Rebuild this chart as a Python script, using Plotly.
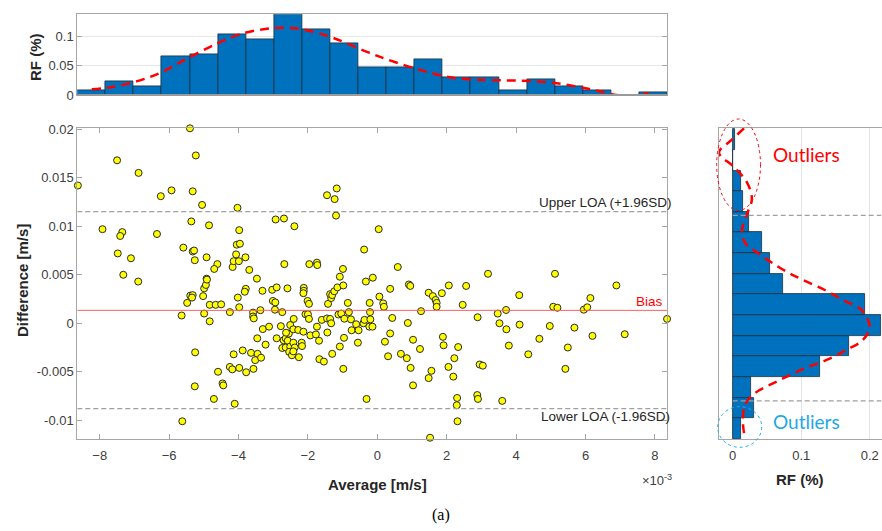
import plotly.graph_objects as go

W, H = 882, 531

# ---------------- data ----------------
# Bland-Altman scatter: average and difference, both in units of 1e-3 m/s
avg_e3 = [
    -8.63, -5.40, -5.23, -7.50, -6.88, -5.93, -6.24, -5.32, -5.05, -4.03,
    -7.92, -7.35, -7.41, -6.35, -5.36, -4.85, -7.48, -7.10, -5.59, -5.32,
    -5.28, -5.26, -4.92, -4.61, -4.70, -7.32, -4.17, -4.14, -4.07, -4.05,
    -3.98, -3.99, -4.92, -6.89, -1.45, -1.23, -1.17, -1.19, -2.93, -2.69,
    -2.39, 0.04, -3.96, -3.80, -3.69, -3.47, -2.68, -1.96, -1.74, -1.73,
    -0.99, -0.38, 0.59, -1.08, -0.13, 3.19, 5.12, -5.64, -5.25, -5.62,
    -5.48, -5.39, -5.32, -5.34, -5.02, -4.99, -4.94, -4.91, -4.99, -4.83,
    -4.83, -4.66, -4.50, -4.25, -4.02, -3.98, -4.14, -5.26, -4.59, -4.46,
    -4.44, -4.71, -4.25, -4.18, -3.98, -4.11, -3.79, -3.82, -3.31, -3.03,
    -2.90, -2.59, -2.12, -2.12, -2.13, -3.01, -2.94, -3.37, -3.58, -3.58,
    -3.56, -2.95, -2.74, -2.01, -1.97, -2.07, -2.00, -1.97, -1.42, -1.33,
    -1.36, -1.30, -1.24, -1.15, -0.98, -0.85, -0.33, 0.06, 0.17, 0.19,
    -0.22, 0.37, 0.91, 0.95, 1.48, 1.60, 1.68, 1.71, 1.71, 1.86,
    2.06, 1.26, -3.88, -3.64, -3.45, -3.52, -3.35, -3.78, -3.57, -3.46,
    -3.22, -3.30, -3.12, -2.90, -2.78, -2.74, -2.64, -2.70, -2.64, -2.58,
    -2.55, -2.63, -2.51, -2.41, -2.42, -2.28, -2.13, -2.51, -2.42, -2.38,
    -2.54, -2.46, -2.42, -2.26, -2.18, -2.17, -1.93, -1.77, -1.74, -1.60,
    -1.68, -1.44, -1.45, -1.36, -1.33, -1.67, -1.54, -1.30, -1.08, -0.96,
    -0.98, -1.12, -1.04, -0.95, -0.82, -0.76, -0.74, -0.61, -0.54, -0.56,
    -0.40, -0.37, -0.23, -0.14, -0.20, -0.21, -0.31, 0.43, 0.37, 0.22,
    0.31, 0.68, 0.85, 0.88, 1.03, 1.23, 0.96, 1.03, 1.48, 1.56,
    1.52, 1.89, 1.91, 2.05, 2.19, 2.33, 2.22, 2.30, 2.29, 2.31,
    2.56, 2.46, 4.09, 6.89, 6.14, 5.07, 5.19, 5.95, 6.05, 3.71,
    3.47, 2.89, 3.52, 3.72, 4.10, 4.97, 5.68, 6.20, 7.13, 8.35,
    4.67, 3.79, 5.49, 4.35, 2.95, 3.04, 5.42, 2.88, 2.90, 3.60,
]
diff_e3 = [
    14.2, 20.1, 17.3, 16.8, 15.5, 13.7, 13.1, 13.6, 12.2, 11.9,
    9.7, 9.4, 9.0, 9.2, 10.5, 10.1, 7.2, 6.7, 7.8, 7.4,
    7.5, 6.5, 6.8, 6.1, 5.6, 5.0, 5.8, 6.4, 7.1, 8.1,
    9.6, 6.4, 4.6, 4.3, 13.2, 12.8, 13.9, 11.1, 10.7, 10.8,
    10.0, 9.7, 8.2, 6.8, 5.5, 4.6, 6.1, 6.1, 6.25, 6.0,
    5.6, 7.6, 5.8, 4.8, 4.7, 5.1, 5.1, 0.8, -3.0, -10.1,
    2.1, 2.85, 2.9, 2.65, 2.8, 3.6, 3.95, 4.5, 1.0, 0.2,
    1.9, 1.9, 1.95, 1.15, 2.65, 1.65, -3.2, -6.5, -5.0, -6.2,
    -6.4, -7.8, -4.5, -4.75, -4.6, -8.3, 3.55, 3.25, 3.35, 3.45,
    3.7, 3.6, 3.65, 3.35, 3.1, 2.3, 2.15, 1.35, 1.1, 0.7,
    0.5, 1.4, 1.15, 2.3, 2.0, 0.93, 0.93, 0.45, 2.0, 2.6,
    3.0, 2.9, 3.3, 3.7, 3.9, 2.1, 4.3, 2.75, 2.05, 1.7,
    2.1, 3.55, 4.0, 3.85, 3.15, 2.8, 2.4, 2.1, 1.7, 3.1,
    3.9, 1.25, -2.8, -3.05, -3.15, -3.8, -3.55, -5.05, -4.7, -1.55,
    -2.2, -0.6, -0.35, -1.55, -0.3, -2.55, -2.5, -1.75, -1.55, -1.8,
    -1.07, -0.97, -0.18, 0.45, -0.62, -0.69, -0.87, -2.4, -2.0, -2.5,
    -2.95, -3.3, -2.9, -3.5, -2.0, -2.35, -1.25, -1.15, -0.35, 0.35,
    -1.8, -0.95, 0.5, 0.45, 0.0, -3.7, -3.95, -3.15, -2.4, -1.5,
    -4.7, 0.9, 1.0, 0.47, 1.15, 0.4, -0.72, -0.1, -0.72, -2.0,
    0.0, 0.35, -0.35, -0.35, 0.4, 1.15, -7.8, 0.55, -1.05, -1.9,
    -3.4, -3.15, -3.6, 0.03, -1.7, -2.65, -4.6, -6.4, -5.65, -4.9,
    -11.8, -1.4, -2.27, -4.5, -5.5, -2.45, -3.6, -7.7, -8.45, -10.1,
    3.85, 1.9, 2.9, 3.9, 2.6, 1.7, 1.6, 1.4, 1.65, 1.37,
    1.0, 0.62, 0.0, -0.62, -0.14, -0.28, -0.45, -1.3, -1.13, 0.45,
    -1.6, -2.3, -2.5, -3.2, -4.25, -4.37, -4.7, -7.4, -7.8, -8.0,
]

bias_e3 = 1.33
upper_loa_e3 = 11.5
lower_loa_e3 = -8.8

# histogram of averages (top panel), 21 bins
top_bin_start_e3 = -8.64
top_bin_width_e3 = 0.8095
top_rf = [0.0085, 0.0239, 0.0153, 0.066, 0.070, 0.104, 0.096, 0.138, 0.112, 0.0886,
          0.047, 0.0466, 0.062, 0.0307, 0.0307, 0.0085, 0.027, 0.0153, 0.0085, 0.0, 0.005]
top_fit_x_e3 = [-8.23, -7.6, -6.84, -6.18, -5.48, -4.62, -3.96, -3.18, -2.60, -2.03, -1.28,
                -0.30, 0.28, 1.23, 2.18, 3.16, 4.11, 5.06, 6.04, 6.90, 7.37, 7.95]
top_fit_rf = [0.0097, 0.014, 0.025, 0.040, 0.0625, 0.088, 0.104, 0.1136, 0.115, 0.111, 0.098,
              0.074, 0.061, 0.043, 0.0295, 0.0256, 0.0245, 0.021, 0.011, 0.0, -0.003, 0.0065]

# histogram of differences (right panel), 15 bins, bottom to top
right_bin_start_e3 = -11.93
right_bin_width_e3 = 2.129
right_rf = [0.0117, 0.0306, 0.0267, 0.127, 0.170, 0.216, 0.193, 0.0739, 0.054, 0.0423,
            0.0233, 0.0155, 0.0117, 0.0, 0.0034]
right_fit_y_e3 = [20.1, 18.9, 17.6, 16.1, 14.5, 12.8, 11.3, 9.6, 8.3, 7.45, 6.4, 5.26, 4.46,
                  3.43, 2.4, 1.37, -0.38, -1.72, -2.75, -3.78, -4.64, -5.5, -6.36, -7.2,
                  -8.4, -10.3, -11.9]
right_fit_rf = [0.0165, -0.0015, -0.020, 0.002, 0.021, 0.028, 0.021, 0.0136, 0.018, 0.0325,
                0.054, 0.080, 0.103, 0.1345, 0.161, 0.188, 0.200, 0.190, 0.166, 0.137, 0.105,
                0.079, 0.054, 0.0325, 0.018, 0.015, 0.018]
right_upper_e3 = 11.13
right_lower_e3 = -8.0

x_tick_vals = [-8, -6, -4, -2, 0, 2, 4, 6, 8]
y_tick_vals = [-0.01, -0.005, 0, 0.005, 0.01, 0.015, 0.02]
y_tick_text = ["-0.01", "-0.005", "0", "0.005", "0.01", "0.015", "0.02"]

# ---------------- helpers ----------------
def pxx(x):
    return x / W

def pxy(y):
    return 1 - y / H

E = 1e-3
BLUE = "#0072BD"
EDGE = "#1c2e40"
AX = "#a6a6a6"
TXT = "#404040"
FONT = "Liberation Sans"

main_xdom = [pxx(77.3), pxx(667.3)]
main_ydom = [pxy(439), pxy(128)]
x_range = [-8.646, 8.357]
y_range = [-0.01193, 0.02013]

fig = go.Figure()

# top histogram
top_centers = [top_bin_start_e3 + (i + 0.5) * top_bin_width_e3 for i in range(len(top_rf))]
fig.add_trace(go.Bar(x=top_centers, y=top_rf, width=top_bin_width_e3,
                     marker=dict(color=BLUE, line=dict(color=EDGE, width=0.8)),
                     xaxis="x2", yaxis="y2", showlegend=False))
fig.add_trace(go.Scatter(x=top_fit_x_e3, y=top_fit_rf, mode="lines",
                         line=dict(color="#ff0000", width=2.5, dash="9px,6px", shape="spline"),
                         xaxis="x2", yaxis="y2", showlegend=False))

# right histogram
right_centers = [(right_bin_start_e3 + (i + 0.5) * right_bin_width_e3) * E for i in range(len(right_rf))]
fig.add_trace(go.Bar(y=right_centers, x=right_rf, width=right_bin_width_e3 * E, orientation="h",
                     marker=dict(color=BLUE, line=dict(color=EDGE, width=0.8)),
                     xaxis="x3", yaxis="y3", showlegend=False))
fig.add_trace(go.Scatter(x=right_fit_rf, y=[v * E for v in right_fit_y_e3], mode="lines",
                         line=dict(color="#ff0000", width=2.5, dash="9px,6px", shape="spline"),
                         xaxis="x3", yaxis="y3", showlegend=False))

# main scatter
fig.add_trace(go.Scatter(x=avg_e3, y=[v * E for v in diff_e3], mode="markers",
                         marker=dict(color="#ffff00", size=7, line=dict(color="#2a2a2a", width=1)),
                         cliponaxis=False, xaxis="x", yaxis="y", showlegend=False))

shapes = [
    dict(type="line", xref="x", yref="y", x0=x_range[0], x1=x_range[1],
         y0=upper_loa_e3 * E, y1=upper_loa_e3 * E, line=dict(color="#a0a0a0", width=1.3, dash="5px,3px")),
    dict(type="line", xref="x", yref="y", x0=x_range[0], x1=x_range[1],
         y0=lower_loa_e3 * E, y1=lower_loa_e3 * E, line=dict(color="#a0a0a0", width=1.3, dash="5px,3px")),
    dict(type="line", xref="x", yref="y", x0=x_range[0], x1=x_range[1],
         y0=bias_e3 * E, y1=bias_e3 * E, line=dict(color="#ff6060", width=1)),
    dict(type="line", xref="x3", yref="y3", x0=0, x1=0.2172,
         y0=right_upper_e3 * E, y1=right_upper_e3 * E, line=dict(color="#a0a0a0", width=1.3, dash="5px,3px")),
    dict(type="line", xref="x3", yref="y3", x0=0, x1=0.2172,
         y0=right_lower_e3 * E, y1=right_lower_e3 * E, line=dict(color="#a0a0a0", width=1.3, dash="5px,3px")),
    dict(type="line", xref="paper", yref="paper", x0=main_xdom[0], x1=main_xdom[1],
         y0=pxy(95), y1=pxy(95), line=dict(color="#9a9a9a", width=2)),
    dict(type="circle", xref="paper", yref="paper", x0=pxx(716.7), x1=pxx(760.5),
         y0=pxy(210.5), y1=pxy(119), line=dict(color="#ff0000", width=1, dash="dot")),
    dict(type="circle", xref="paper", yref="paper", x0=pxx(717.7), x1=pxx(761.7),
         y0=pxy(447.3), y1=pxy(406.7), line=dict(color="#22aee8", width=1, dash="dot")),
]

def ann(text, x, y, size=13, color=TXT, xanchor="center", bold=False, family=FONT, angle=0):
    if bold:
        text = "<b>" + text + "</b>"
    return dict(text=text, xref="paper", yref="paper", x=pxx(x), y=pxy(y), showarrow=False,
                xanchor=xanchor, yanchor="middle", textangle=angle,
                font=dict(size=size, color=color, family=family))

annotations = [
    ann("Upper LOA (+1.96SD)", 673, 202.5, size=13.5, color="#262626", xanchor="right"),
    ann("Lower LOA (-1.96SD)", 672, 416.5, size=13.5, color="#262626", xanchor="right"),
    ann("Bias", 665, 301, size=13.5, color="#ff0000", xanchor="right"),
    ann("Difference [m/s]", 22, 281, size=15, color="#262626", bold=True, angle=-90),
    ann("RF (%)", 35, 57, size=15, color="#262626", bold=True, angle=-90),
    ann("Average [m/s]", 377, 484, size=15, color="#262626", bold=True),
    ann("RF (%)", 800, 479, size=15, color="#262626", bold=True),
    ann("×10<sup>-3</sup>", 657, 480, size=13, color=TXT),
    ann("Outliers", 806, 155, size=19, color="#ff0000", family="Lato"),
    ann("Outliers", 806, 421, size=19, color="#1ea8e4", family="Lato"),
    ann("(a)", 441, 515, size=16, color="#000000", family="Liberation Serif"),
]

axis_common = dict(showline=True, linecolor=AX, linewidth=1, zeroline=False, automargin=False,
                   tickfont=dict(family=FONT, size=13, color=TXT))

fig.update_layout(
    width=W, height=H,
    autosize=False,
    margin=dict(l=0, r=0, t=0, b=0, pad=0, autoexpand=False),
    paper_bgcolor="white", plot_bgcolor="white",
    bargap=0, barmode="overlay",
    shapes=shapes, annotations=annotations,
    xaxis=dict(domain=main_xdom, anchor="y", range=x_range, tickvals=x_tick_vals,
               ticks="inside", ticklen=5, tickcolor=AX, mirror="ticks", showgrid=False,
               ticklabelstandoff=4, **axis_common),
    yaxis=dict(domain=main_ydom, anchor="x", range=y_range, tickvals=y_tick_vals, ticktext=y_tick_text,
               ticks="inside", ticklen=5, tickcolor=AX, mirror="ticks", showgrid=False, **axis_common),
    xaxis2=dict(domain=main_xdom, anchor="y2", range=x_range, showticklabels=False, ticks="",
                mirror=True, showgrid=False, **axis_common),
    yaxis2=dict(domain=[pxy(95), pxy(14.3)], anchor="x2", range=[0, 0.1382],
                tickvals=[0, 0.05, 0.1], ticktext=["0", "0.05", "0.1"],
                ticks="inside", ticklen=5, tickcolor=AX, mirror="ticks",
                showgrid=True, gridcolor="#e8e8e8", **axis_common),
    xaxis3=dict(domain=[pxx(719), pxx(881.5)], anchor="y3", range=[-0.02, 0.2172],
                tickvals=[0, 0.1, 0.2], ticktext=["0", "0.1", "0.2"], ticks="",
                mirror=True, showgrid=True, gridcolor="#e4e4e4", ticklabelstandoff=4, **axis_common),
    yaxis3=dict(domain=main_ydom, anchor="x3", range=y_range, showticklabels=False, ticks="",
                mirror=True, showgrid=False, **axis_common),
)

fig.write_html(
    "out.html",
    config={"displayModeBar": False},
    post_script=(
        "document.documentElement.style.margin='0';"
        "document.documentElement.style.overflow='hidden';"
        "document.body.style.margin='0';document.body.style.overflow='hidden';"
        "var d=document.getElementById('{plot_id}');"
        "d.style.position='fixed';d.style.top='0px';d.style.left='0px';"
    ),
)
